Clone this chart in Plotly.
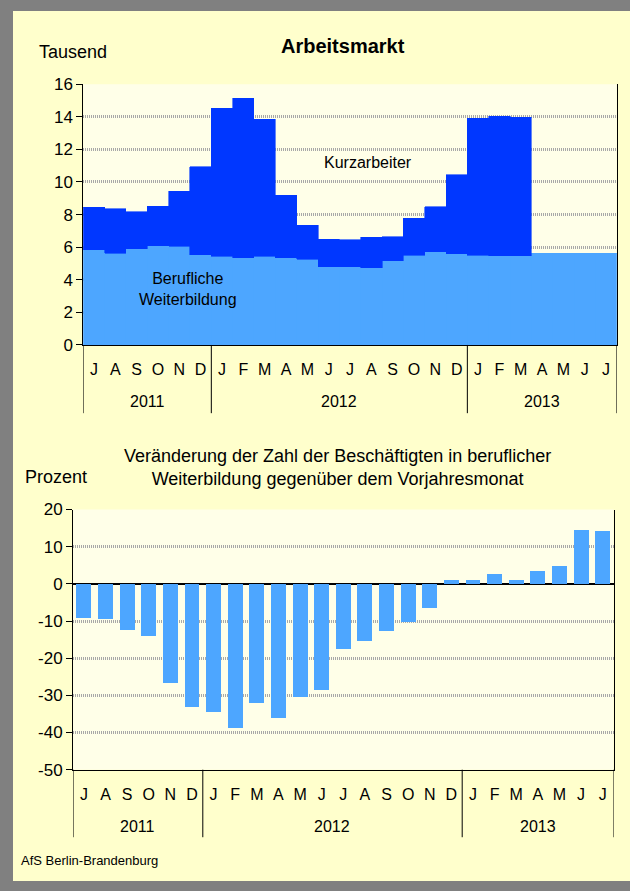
import plotly.graph_objects as go

# ---------------- data ----------------
months = ["J", "A", "S", "O", "N", "D",
          "J", "F", "M", "A", "M", "J", "J", "A", "S", "O", "N", "D",
          "J", "F", "M", "A", "M", "J", "J"]
years = ["2011", "2012", "2013"]
year_counts = [6, 12, 7]

# Tausend
weiterbildung = [5.83, 5.63, 5.91, 6.09, 6.07, 5.52,
                 5.44, 5.36, 5.44, 5.34, 5.26, 4.79, 4.81, 4.75, 5.18, 5.50, 5.73, 5.61,
                 5.50, 5.48, 5.48, 5.63, 5.63, 5.63, 5.63]
kurzarbeiter = [2.62, 2.74, 2.27, 2.42, 3.35, 5.41,
                9.08, 9.77, 8.41, 3.84, 2.09, 1.71, 1.63, 1.87, 1.46, 2.26, 2.74, 4.83,
                8.41, 8.55, 8.49, None, None, None, None]

# Prozent
veraenderung = [-9.1, -9.4, -12.3, -13.9, -26.7, -33.1,
                -34.5, -38.7, -32.1, -36.1, -30.5, -28.6, -17.4, -15.5, -12.6, -10.4, -6.4, 0.9,
                0.9, 2.6, 0.9, 3.4, 4.7, 14.6, 14.1]

# y tick labels
top_ticks = [0, 2, 4, 6, 8, 10, 12, 14, 16]
top_ticklabels = ["0", "2", "4", "6", "8", "10", "12", "14", "16"]
bot_ticks = [-50, -40, -30, -20, -10, 0, 10, 20]
bot_ticklabels = ["-50", "-40", "-30", "-20", "-10", "0", "10", "20"]

# ---------------- styling ----------------
W, H = 630, 891
FONT = "Liberation Sans, Arial, sans-serif"
DARK = "#0037FF"
LIGHT = "#4DA6FF"
PANEL = "#FFFFCC"
PLOTBG = "#FFFFE8"
GRID = "#A8A8A8"


def px_x(v):
    return v / W


def px_y(v):
    # target screen position -> paper fraction (small vertical correction)
    v = (v - 5.0) / 0.9855
    return 1 - v / H


x_idx = list(range(len(months)))

fig = go.Figure()

fig.add_trace(go.Bar(x=x_idx, y=weiterbildung, width=1.0, marker=dict(color=LIGHT, line=dict(width=0.6, color=LIGHT)),
                     xaxis="x", yaxis="y", name="Berufliche Weiterbildung", showlegend=False))
fig.add_trace(go.Bar(x=x_idx, y=kurzarbeiter, width=1.0, marker=dict(color=DARK, line=dict(width=0.6, color=DARK)),
                     xaxis="x", yaxis="y", name="Kurzarbeiter", showlegend=False))
fig.add_trace(go.Bar(x=x_idx, y=veraenderung, width=0.69, marker=dict(color=LIGHT, line=dict(width=0)),
                     xaxis="x2", yaxis="y2", name="Veränderung", showlegend=False))

# geometry (pixels)
top_plot = dict(l=83.3, r=616.7, t=80.7, b=343.3, sep=412, yr=400)
bot_plot = dict(l=73.1, r=613.5, t=509, b=771, sep=839, yr=828)

common_x = dict(range=[-0.5, len(months) - 0.5], tickvals=x_idx, ticktext=months,
                ticks="outside", ticklen=10, tickcolor="rgba(0,0,0,0)",
                showline=True, linecolor="black", linewidth=1, showgrid=False, zeroline=False,
                tickfont=dict(size=16, color="black", family=FONT), fixedrange=True)
common_y = dict(showline=True, linecolor="black", linewidth=1, mirror=True,
                ticks="outside", ticklen=6, tickcolor="black",
                showgrid=True, gridcolor=GRID, griddash="1px,1px", gridwidth=2.5,
                tickfont=dict(size=17, color="black", family=FONT), fixedrange=True)

layout_axes = dict(
    xaxis=dict(common_x, domain=[px_x(top_plot["l"]), px_x(top_plot["r"])], anchor="y"),
    yaxis=dict(common_y, domain=[px_y(top_plot["b"]), px_y(top_plot["t"])], anchor="x",
               range=[0, 16], tickvals=top_ticks, ticktext=top_ticklabels, zeroline=False),
    xaxis2=dict(common_x, domain=[px_x(bot_plot["l"]), px_x(bot_plot["r"])], anchor="y2"),
    yaxis2=dict(common_y, domain=[px_y(bot_plot["b"]), px_y(bot_plot["t"])], anchor="x2",
                range=[-50, 20], tickvals=bot_ticks, ticktext=bot_ticklabels,
                zeroline=True, zerolinecolor="black", zerolinewidth=1.5),
)

shapes = [
    # yellow panel inside the grey frame
    dict(type="rect", xref="paper", yref="paper", x0=px_x(13), x1=1.0, y0=px_y(883), y1=px_y(7),
         fillcolor=PANEL, line=dict(width=0), layer="below"),
    # plot backgrounds
    dict(type="rect", xref="x domain", yref="y domain", x0=0, x1=1, y0=0, y1=1,
         fillcolor=PLOTBG, line=dict(width=0), layer="below"),
    dict(type="rect", xref="x2 domain", yref="y2 domain", x0=0, x1=1, y0=0, y1=1,
         fillcolor=PLOTBG, line=dict(width=0), layer="below"),
]

annotations = []
for xa, geo in (("x", top_plot), ("x2", bot_plot)):
    start = -0.5
    bounds = [start]
    for cnt in year_counts:
        start += cnt
        bounds.append(start)
    for b in bounds:
        shapes.append(dict(type="line", xref=xa, yref="paper", x0=b, x1=b,
                           y0=px_y(geo["b"]), y1=px_y(geo["sep"]),
                           line=dict(color="black", width=1)))
    for yr, a, b in zip(years, bounds[:-1], bounds[1:]):
        annotations.append(dict(text=yr, xref=xa, yref="paper", x=(a + b) / 2, y=px_y(geo["yr"]),
                                showarrow=False, xanchor="center", yanchor="middle",
                                font=dict(size=16, color="black", family=FONT)))

annotations += [
    dict(text="<b>Arbeitsmarkt</b>", xref="paper", yref="paper", x=px_x(342.5), y=px_y(42),
         showarrow=False, xanchor="center", yanchor="middle", font=dict(size=20, color="black", family=FONT)),
    dict(text="Tausend", xref="paper", yref="paper", x=px_x(37), y=px_y(48),
         showarrow=False, xanchor="left", yanchor="middle", font=dict(size=18, color="black", family=FONT)),
    dict(text="Kurzarbeiter", xref="paper", yref="paper", x=px_x(367.6), y=px_y(160),
         showarrow=False, xanchor="center", yanchor="middle", font=dict(size=16, color="black", family=FONT)),
    dict(text="Berufliche<br>Weiterbildung", xref="paper", yref="paper", x=px_x(188), y=px_y(287),
         showarrow=False, xanchor="center", yanchor="middle", font=dict(size=16, color="black", family=FONT)),
    dict(text="Veränderung der Zahl der Beschäftigten in beruflicher<br>Weiterbildung gegenüber dem Vorjahresmonat",
         xref="paper", yref="paper", x=px_x(337.5), y=px_y(467),
         showarrow=False, xanchor="center", yanchor="middle", font=dict(size=18, color="black", family=FONT)),
    dict(text="Prozent", xref="paper", yref="paper", x=px_x(23), y=px_y(476),
         showarrow=False, xanchor="left", yanchor="middle", font=dict(size=18, color="black", family=FONT)),
    dict(text="AfS Berlin-Brandenburg", xref="paper", yref="paper", x=px_x(19), y=px_y(862),
         showarrow=False, xanchor="left", yanchor="middle", font=dict(size=13, color="black", family=FONT)),
]

fig.update_layout(
    width=W, height=H, margin=dict(l=0, r=0, t=0, b=0),
    paper_bgcolor="#808080", plot_bgcolor=PLOTBG,
    barmode="stack", showlegend=False,
    font=dict(family=FONT, color="black"),
    shapes=shapes, annotations=annotations,
    **layout_axes,
)

fig.write_html(
    "out.html",
    config={"displayModeBar": False},
    post_script="document.body.style.margin='0';document.body.style.overflow='hidden';",
)
